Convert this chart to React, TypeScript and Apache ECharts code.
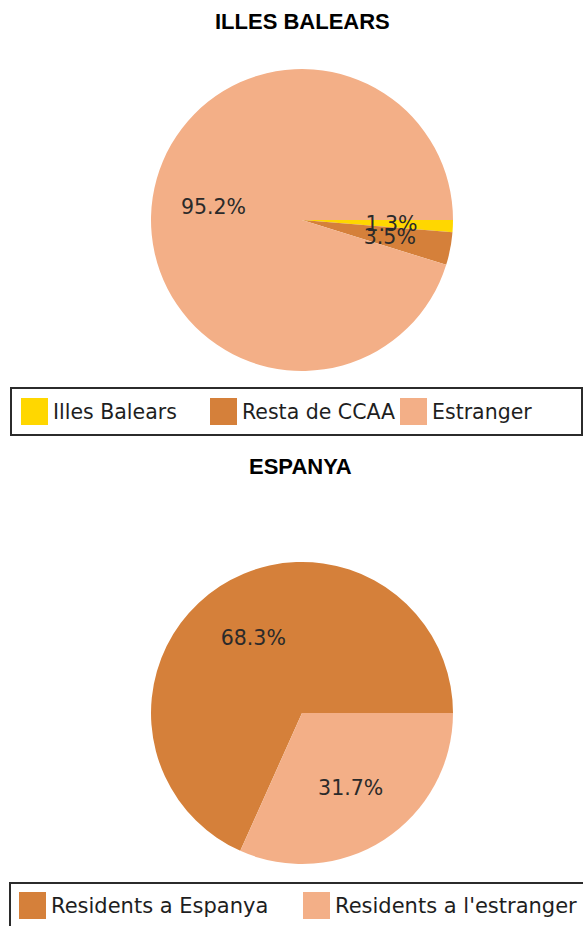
import React, { useEffect, useRef } from "react";
import * as echarts from "echarts";

const topTitle = "ILLES BALEARS";
const topNames = ["Illes Balears", "Resta de CCAA", "Estranger"];
const topValues = [1.3, 3.5, 95.2];
const topColors = ["#FFD700", "#D5803A", "#F3AF87"];

const bottomTitle = "ESPANYA";
const bottomNames = ["Residents a Espanya", "Residents a l'estranger"];
const bottomValues = [68.3, 31.7];
const bottomColors = ["#D5803A", "#F3AF87"];

const R = 151;
const LABEL_R0 = 22;
const labelFont = { fontFamily: "DejaVu Sans", fontSize: 20.5, color: "#2a2a2a" };
const titleFont = { fontFamily: "Liberation Sans", fontWeight: "bold", fontSize: 22, color: "#000" };

function pieSeries(names: string[], values: number[], colors: string[], center: number[], clockwise: boolean) {
  const data = names.map((n, i) => ({ name: n, value: values[i], itemStyle: { color: colors[i] } }));
  const labelData = names.map((n, i) => ({ name: n, value: values[i] }));
  return [
    {
      type: "pie",
      center,
      radius: [0, R],
      startAngle: 0,
      clockwise,
      silent: true,
      label: { show: false },
      labelLine: { show: false },
      itemStyle: { borderWidth: 0 },
      emphasis: { disabled: true },
      data,
    },
    {
      type: "pie",
      center,
      radius: [LABEL_R0, R],
      startAngle: 0,
      clockwise,
      silent: true,
      avoidLabelOverlap: false,
      minShowLabelAngle: 0,
      labelLayout: { hideOverlap: false },
      itemStyle: { color: "rgba(0,0,0,0)", borderWidth: 0 },
      emphasis: { disabled: true },
      label: {
        show: true,
        position: "inside",
        ...labelFont,
        formatter: (p: any) => p.value.toFixed(1) + "%",
      },
      labelLine: { show: false },
      data: labelData,
    },
  ];
}

function legendFor(name: string, color: string, left: number, top: number, fontSize: number) {
  return {
    left,
    top,
    padding: 0,
    itemWidth: 27,
    itemHeight: 27,
    itemGap: 0,
    icon: "rect",
    selectedMode: false,
    textStyle: { fontFamily: "DejaVu Sans", fontSize, color: "#1e1e1e" },
    data: [{ name, itemStyle: { color } }],
  };
}

export default function App() {
  const ref = useRef<HTMLDivElement>(null);
  useEffect(() => {
    document.body.style.margin = "0";
    const chart = echarts.init(ref.current!, null, { renderer: "svg" });
    const topLegendLeft = [21, 210, 400];
    const bottomLegendLeft = [19, 303];
    chart.setOption({
      animation: false,
      backgroundColor: "#ffffff",
      title: [
        { text: topTitle, left: 215, top: 10, padding: 0, textStyle: titleFont },
        { text: bottomTitle, left: 249, top: 455, padding: 0, textStyle: titleFont },
      ],
      legend: [
        ...topNames.map((n, i) => legendFor(n, topColors[i], topLegendLeft[i], 398, 20.5)),
        ...bottomNames.map((n, i) => legendFor(n, bottomColors[i], bottomLegendLeft[i], 892, 21)),
      ],
      graphic: [
        {
          type: "rect",
          shape: { x: 11, y: 388, width: 571, height: 47 },
          style: { fill: "none", stroke: "#2b2b2b", lineWidth: 2 },
          z: -1,
        },
        {
          type: "rect",
          shape: { x: 10, y: 883, width: 590, height: 60 },
          style: { fill: "none", stroke: "#2b2b2b", lineWidth: 2 },
          z: -1,
        },
      ],
      series: [
        ...pieSeries(topNames, topValues, topColors, [302, 220], true),
        ...pieSeries(bottomNames, bottomValues, bottomColors, [302, 713], false),
      ],
    });
    return () => chart.dispose();
  }, []);
  return <div ref={ref} style={{ width: 583, height: 926 }} />;
}
